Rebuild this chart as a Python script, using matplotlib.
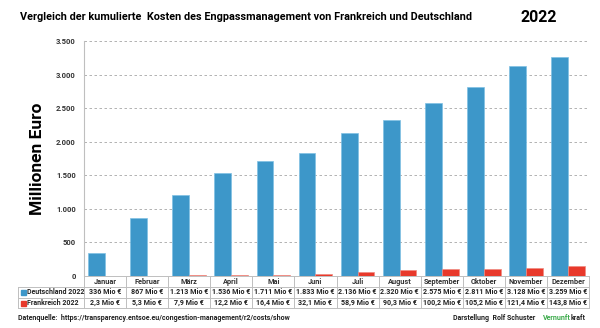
import matplotlib.pyplot as plt
import matplotlib.transforms as mtransforms
from matplotlib.lines import Line2D
from matplotlib.patches import Rectangle
import numpy as np

plt.rcParams['font.family'] = ['Roboto', 'DejaVu Sans']

monate = ['Januar', 'Februar', 'März', 'April', 'Mai', 'Juni', 'Juli',
          'August', 'September', 'Oktober', 'November', 'Dezember']
deutschland = [336, 867, 1213, 1536, 1711, 1833, 2136, 2320, 2575, 2811, 3128, 3259]
frankreich = [2.3, 5.3, 7.9, 12.2, 16.4, 32.1, 58.9, 90.3, 100.2, 105.2, 121.4, 143.8]
serien = ['Deutschland 2022', 'Frankreich 2022']

blau = '#3D97C9'
rot = '#E8392B'
grau = '#BFBFBF'


def fmt_de(v):
    # deutsche Schreibweise: Tausenderpunkt bzw. Dezimalkomma
    if float(v).is_integer():
        return f'{int(v):,}'.replace(',', '.')
    return f'{v:.1f}'.replace('.', ',')


fig = plt.figure(figsize=(6, 3.28), dpi=100)
ax = fig.add_axes([84 / 600, 1 - 276 / 328, 505 / 600, 235 / 328])

x = np.arange(len(monate))
b = 0.4
ax.bar(x - 0.2, deutschland, b, color=blau, edgecolor='#7FC0E3', linewidth=0.5, zorder=3)
ax.bar(x + 0.2, frankreich, b, color=rot, edgecolor='#F08A80', linewidth=0.5, zorder=3)

ax.set_xlim(-0.5, len(monate) - 0.5)
ax.set_ylim(0, 3500)
ax.set_yticks(np.arange(0, 3501, 500))
ax.set_yticklabels([fmt_de(v) for v in np.arange(0, 3501, 500)],
                   fontsize=5.5, fontweight='bold', color='#333333')
ax.set_xticks([])
ax.tick_params(axis='y', length=0, pad=6)
ax.grid(axis='y', color='#A6A6A6', linestyle=(0, (3, 3)), linewidth=0.6, zorder=0)
for s in ['top', 'right', 'bottom']:
    ax.spines[s].set_visible(False)
ax.spines['left'].set_color(grau)

ax.set_ylabel('Millionen Euro', fontsize=12.5, fontweight='bold', labelpad=8)

# Datentabelle unter dem Diagramm
tr = mtransforms.blended_transform_factory(ax.transData, fig.transFigure)
zeilen = [1 - 276 / 328, 1 - 287 / 328, 1 - 298 / 328, 1 - 308 / 328]
links = 18 / 600
ax_links = 84 / 600

for y in zeilen:
    x0 = ax_links if y == zeilen[0] else links
    fig.add_artist(Line2D([x0, 589 / 600], [y, y], color=grau, lw=0.7,
                          transform=fig.transFigure))
for i in range(len(monate) + 1):
    ax.add_line(Line2D([i - 0.5, i - 0.5], [zeilen[0], zeilen[3]], color=grau,
                       lw=0.7, transform=tr, clip_on=False))
fig.add_artist(Line2D([links, links], [zeilen[1], zeilen[3]], color=grau, lw=0.7,
                      transform=fig.transFigure))

mitte = [(zeilen[i] + zeilen[i + 1]) / 2 for i in range(3)]
for i, m in enumerate(monate):
    ax.text(i, mitte[0], m, transform=tr, ha='center', va='center',
            fontsize=5.3, fontweight='bold', color='#333333')
    ax.text(i, mitte[1], fmt_de(deutschland[i]) + ' Mio €', transform=tr,
            ha='center', va='center', fontsize=5.1, fontweight='bold', color='#222222')
    ax.text(i, mitte[2], fmt_de(frankreich[i]) + ' Mio €', transform=tr,
            ha='center', va='center', fontsize=5.1, fontweight='bold', color='#222222')

for k, (name, farbe) in enumerate(zip(serien, [blau, rot])):
    y = mitte[k + 1]
    fig.add_artist(Rectangle((21 / 600, y - 2.5 / 328), 5 / 600, 5 / 328,
                             color=farbe, transform=fig.transFigure))
    fig.text(27.5 / 600, y, name, ha='left', va='center', fontsize=5.0,
             fontweight='bold', color='#222222')

# Titel
fig.text(20 / 600, 1 - 17 / 328, 'Vergleich der kumulierte  Kosten des Engpassmanagement von Frankreich und Deutschland',
         ha='left', va='center', fontsize=7.8, fontweight='bold')
fig.text(539 / 600, 1 - 17 / 328, '2022', ha='center', va='center',
         fontsize=11.5, fontweight='bold')

# Fusszeile
fig.text(18 / 600, 1 - 318 / 328,
         'Datenquelle:  https://transparency.entsoe.eu/congestion-management/r2/costs/show',
         ha='left', va='center', fontsize=5, fontweight='bold', color='#222222')
fig.text(453 / 600, 1 - 318 / 328, 'Darstellung  Rolf Schuster', ha='left', va='center',
         fontsize=5, fontweight='bold', color='#222222')
t = fig.text(543 / 600, 1 - 318 / 328, 'Vernunft', ha='left', va='center',
             fontsize=5, fontweight='bold', color='#3BAA4A')
fig.canvas.draw()
bb = t.get_window_extent()
fig.text(bb.x1 / 600, 1 - 318 / 328, 'kraft', ha='left', va='center',
         fontsize=5, fontweight='bold', color='#222222')

fig.savefig('out.png', dpi=100)
